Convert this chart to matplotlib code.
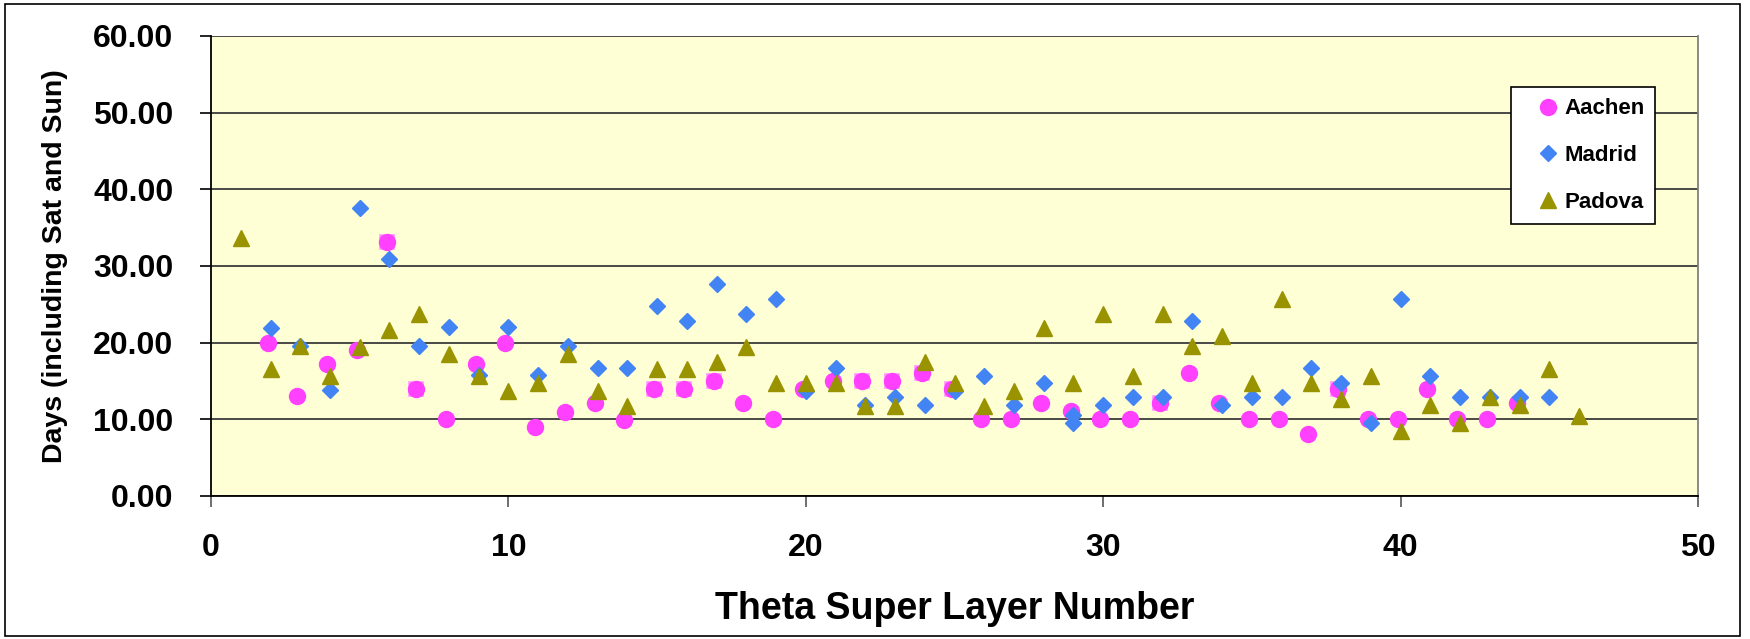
import matplotlib
matplotlib.use("Agg")
import matplotlib.pyplot as plt
from matplotlib.patches import Rectangle

plt.rcParams["font.family"] = ["Liberation Sans", "DejaVu Sans"]
plt.rcParams["font.weight"] = "bold"

# Days per theta super layer for each production site
aachen_layers = [2, 3, 4, 5, 6, 7, 8, 9, 10, 11, 12, 13, 14, 15, 16, 17, 18, 19, 20, 21, 22, 23,
                 24, 25, 26, 27, 28, 29, 30, 31, 32, 33, 34, 35, 36, 37, 38, 39, 40, 41, 42, 43, 44]
aachen_days = [20.0, 13.1, 17.2, 19.1, 33.1, 14.0, 10.0, 17.2, 20.0, 9.0, 11.0, 12.1, 9.9, 14.0,
               14.0, 15.0, 12.1, 10.0, 14.0, 15.0, 15.0, 15.0, 16.0, 14.0, 10.0, 10.0, 12.1, 11.1,
               10.0, 10.0, 12.1, 16.0, 12.1, 10.0, 10.0, 8.1, 14.0, 10.0, 10.0, 14.0, 10.0, 10.0, 12.1]
# Aachen layers drawn with an extra square frame in the original
aachen_boxed = [6, 7, 15, 16, 17, 22, 23, 24, 25, 32, 38]

madrid_layers = [2, 3, 4, 5, 6, 7, 8, 9, 10, 11, 12, 13, 14, 15, 16, 17, 18, 19, 20, 21, 22, 23,
                 24, 25, 26, 27, 28, 29, 29, 30, 31, 32, 33, 34, 35, 36, 37, 38, 39, 40, 41, 42,
                 43, 44, 45]
madrid_days = [21.9, 19.6, 13.8, 37.6, 30.9, 19.6, 22.0, 15.8, 22.0, 15.8, 19.6, 16.7, 16.7, 24.8,
               22.8, 27.6, 23.8, 25.7, 13.7, 16.7, 11.9, 12.9, 11.9, 13.7, 15.7, 11.9, 14.8, 10.6,
               9.5, 11.9, 12.9, 12.9, 22.8, 11.9, 12.9, 12.9, 16.7, 14.8, 9.5, 25.7, 15.7, 12.9,
               12.9, 12.9, 12.9]

padova_layers = [1, 2, 3, 4, 5, 6, 7, 8, 9, 10, 11, 12, 13, 14, 15, 16, 17, 18, 19, 20, 21, 22,
                 23, 24, 25, 26, 27, 28, 29, 30, 31, 32, 33, 34, 35, 36, 37, 38, 39, 40, 41, 42,
                 43, 44, 45, 46]
padova_days = [33.7, 16.6, 19.5, 15.7, 19.4, 21.7, 23.7, 18.5, 15.7, 13.7, 14.7, 18.5, 13.7, 11.8,
               16.6, 16.6, 17.5, 19.4, 14.7, 14.7, 14.7, 11.8, 11.8, 17.5, 14.7, 11.8, 13.7, 21.9,
               14.7, 23.7, 15.7, 23.7, 19.5, 20.9, 14.7, 25.7, 14.7, 12.7, 15.7, 8.5, 11.9, 9.5,
               12.9, 11.9, 16.6, 10.4]

y_ticks = [0, 10, 20, 30, 40, 50, 60]
x_ticks = [0, 10, 20, 30, 40, 50]

pink = "#FF40FF"
blue = "#4384F5"
olive = "#9A9300"

fig = plt.figure(figsize=(17.5, 6.39), dpi=100)
ax = fig.add_axes([0.1206, 0.2238, 0.8497, 0.7199])
ax.set_facecolor("#FFFFD5")

# outer chart border
fig.patches.append(Rectangle((0.003, 0.005), 0.991, 0.988, transform=fig.transFigure,
                             fill=False, edgecolor="black", linewidth=1.2))

aachen_x = [x - 0.1 for x in aachen_layers]
boxed_x = [x - 0.1 for x, v in zip(aachen_layers, aachen_days) if x in aachen_boxed]
boxed_y = [v for x, v in zip(aachen_layers, aachen_days) if x in aachen_boxed]

ax.plot(boxed_x, boxed_y, "s", markersize=10, markerfacecolor=pink,
        markeredgecolor="#FF99FF", markeredgewidth=1.2, zorder=3)
ax.plot(aachen_x, aachen_days, "o", markersize=11.5, color=pink, label="Aachen", zorder=4)
ax.plot(madrid_layers, madrid_days, "D", markersize=8.5, color=blue, label="Madrid", zorder=4)
ax.plot(padova_layers, padova_days, "^", markersize=12, color=olive, label="Padova", zorder=5)

ax.set_xlim(0, 50)
ax.set_ylim(0, 60)
ax.set_xticks(x_ticks)
ax.set_yticks(y_ticks)
ax.set_yticklabels([f"{v:.2f}" for v in y_ticks])

ax.yaxis.grid(True, color="#3a3a3a", linewidth=1.3)
ax.set_axisbelow(True)

ax.spines["top"].set_visible(False)
ax.spines["right"].set_color("#808080")
ax.spines["right"].set_linewidth(1.3)
ax.spines["left"].set_linewidth(1.3)
ax.spines["bottom"].set_linewidth(1.3)

ax.tick_params(axis="y", direction="out", length=8, width=1.2, pad=19, labelsize=23)
ax.tick_params(axis="x", direction="out", length=8, width=1.2, pad=19, labelsize=23,
               color="#555555")

ax.set_xlabel("Theta Super Layer Number", fontsize=27, fontweight="bold", va="center")
ax.xaxis.set_label_coords(0.5, -0.245)
ax.set_ylabel("Days (including Sat and Sun)", fontsize=20.5, fontweight="bold",
              va="center", ha="center")
ax.yaxis.set_label_coords(-0.105, 0.5)

leg = ax.legend(loc="center", bbox_to_anchor=(0.8583, 0.651, 0.0926, 0.2113),
                bbox_transform=fig.transFigure, frameon=True, fancybox=False,
                prop={"size": 16, "weight": "bold"}, labelspacing=1.15, borderpad=0.5,
                handletextpad=-0.5, handlelength=2.4)
leg.get_frame().set_edgecolor("black")
leg.get_frame().set_linewidth(1.2)
leg.get_frame().set_facecolor("white")
leg.get_frame().set_alpha(1)

fig.savefig("out.png", dpi=100)
